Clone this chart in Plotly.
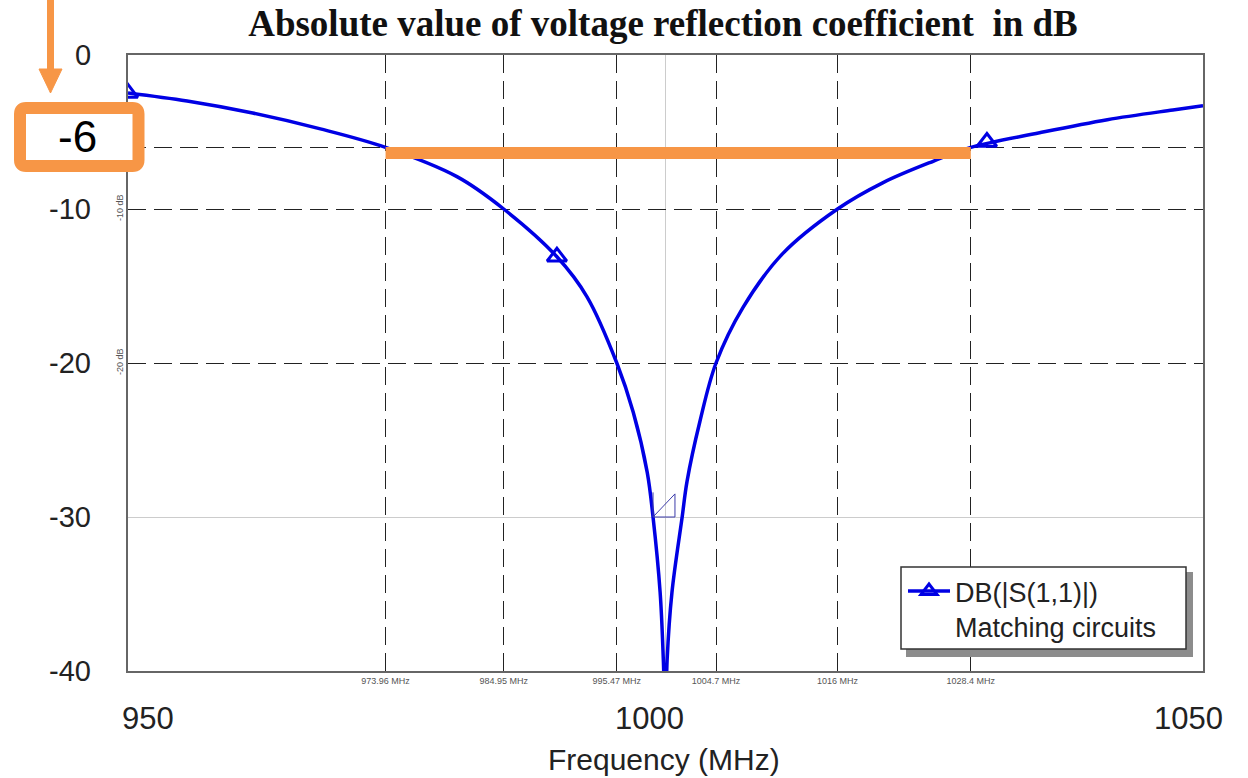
import plotly.graph_objects as go

# ---------------- data ----------------
freq_mhz = [950, 955.5, 961.6, 967.9, 973.96, 980.6, 984.95, 989.9, 992.7, 995.47,
            997.0, 998.3, 998.84, 999.5, 999.8, 1000.0, 1000.15, 1000.6, 1001.55,
            1002.0, 1003.2, 1004.7, 1007.2, 1010.9, 1016.0, 1020.2, 1024.9, 1028.4,
            1034.8, 1041.1, 1047.2, 1050]
s11_db = [-2.47, -2.99, -3.77, -4.8, -6.0, -7.9, -10.0, -13.1, -15.7, -20.0,
          -23.2, -27.1, -30.0, -34.9, -39.3, -44.0, -39.3, -34.9, -30.0,
          -27.7, -23.8, -20.0, -16.4, -12.9, -10.0, -8.3, -6.9, -6.0,
          -5.05, -4.2, -3.57, -3.3]

marker_freq = [950, 989.9, 1029.9]
marker_db = [-2.47, -13.1, -5.65]

grid_freq = [973.96, 984.95, 995.47, 1004.7, 1016, 1028.4]
grid_freq_text = ["973.96 MHz", "984.95 MHz", "995.47 MHz", "1004.7 MHz", "1016 MHz", "1028.4 MHz"]
grid_db = [-6, -10, -20]
grid_db_text = ["-6 dB", "-10 dB", "-20 dB"]

big_x_ticks = [950, 1000, 1050]
big_x_shift = [20, -16, -15]
big_y_ticks = [0, -10, -20, -30, -40]

center_freq = 1000
ref_level = -30
bw_edges = [973.96, 1028.4]
bw_level = -6
highlight_label = "-6"

title_text = "Absolute value of voltage reflection coefficient  in dB"
legend_text = "DB(|S(1,1)|)<br>Matching circuits"
x_title = "Frequency (MHz)"

# ---------------- layout helpers ----------------
W, H = 1248, 778
L, R, T, B = 128, 1203, 55, 671
ORANGE = "rgb(247,150,70)"
BLUE = "rgb(0,0,228)"
SANS = "Liberation Sans, Arial, sans-serif"
SERIF = "Liberation Serif, Times New Roman, serif"


def px(xp):
    return (xp - L) / (R - L)


def py(yp):
    return (B - yp) / (B - T)


fig = go.Figure()

fig.add_trace(go.Scatter(
    x=freq_mhz, y=s11_db, mode="lines",
    line=dict(color=BLUE, width=3.5, shape="spline", smoothing=1.0),
    showlegend=False, hoverinfo="x+y"))

fig.add_trace(go.Scatter(
    x=marker_freq, y=marker_db, mode="markers",
    marker=dict(symbol="triangle-up-open", size=17, color=BLUE, line=dict(width=3, color=BLUE)),
    showlegend=False))

# legend-only entry
fig.add_trace(go.Scatter(
    x=[None], y=[None], mode="lines+markers", name=legend_text,
    line=dict(color=BLUE, width=3.5),
    marker=dict(symbol="triangle-up-open", size=14, color=BLUE, line=dict(width=3, color=BLUE)),
    showlegend=True))

shapes = []

# small marker flag at (center_freq, ref_level)
dx_l, dx_r = -1.16, 0.88
dy_t, dy_t2 = 1.6, 1.5
fx0, fx1 = center_freq + dx_l, center_freq + dx_r
fy0 = ref_level
shapes.append(dict(
    type="path", xref="x", yref="y",
    path=(f"M {fx0},{fy0 + dy_t} L {fx0},{fy0} L {fx1},{fy0} L {fx1},{fy0 + dy_t2} L {fx0},{fy0} "),
    line=dict(color="rgb(60,60,170)", width=1), layer="above"))

# orange bandwidth line
shapes.append(dict(type="line", xref="x", yref="y",
                   x0=bw_edges[0], x1=bw_edges[1], y0=bw_level - 0.36, y1=bw_level - 0.36,
                   line=dict(color=ORANGE, width=12), layer="above"))

# orange arrow
shapes.append(dict(type="line", xref="paper", yref="paper",
                   x0=px(50.5), x1=px(50.5), y0=py(0), y1=py(72),
                   line=dict(color=ORANGE, width=7), layer="above"))
shapes.append(dict(type="path", xref="paper", yref="paper",
                   path=f"M {px(39)},{py(69)} L {px(62)},{py(69)} L {px(50.5)},{py(93)} Z",
                   fillcolor=ORANGE, line=dict(color=ORANGE, width=1), layer="above"))

# orange rounded box around -6
x0b, x1b, y0b, y1b, r = 20, 138.5, 108, 166, 6
path = (f"M {px(x0b + r)},{py(y0b)} L {px(x1b - r)},{py(y0b)} "
        f"Q {px(x1b)},{py(y0b)} {px(x1b)},{py(y0b + r)} "
        f"L {px(x1b)},{py(y1b - r)} Q {px(x1b)},{py(y1b)} {px(x1b - r)},{py(y1b)} "
        f"L {px(x0b + r)},{py(y1b)} Q {px(x0b)},{py(y1b)} {px(x0b)},{py(y1b - r)} "
        f"L {px(x0b)},{py(y0b + r)} Q {px(x0b)},{py(y0b)} {px(x0b + r)},{py(y0b)} Z")
shapes.append(dict(type="path", xref="paper", yref="paper", path=path,
                   fillcolor="white", line=dict(color=ORANGE, width=12), layer="above"))

# legend box with drop shadow
shapes.append(dict(type="rect", xref="paper", yref="paper",
                   x0=px(906), x1=px(1193), y0=py(572), y1=py(657),
                   fillcolor="rgb(140,140,140)", line=dict(width=0), layer="above"))
shapes.append(dict(type="rect", xref="paper", yref="paper",
                   x0=px(901), x1=px(1186), y0=py(567), y1=py(649),
                   fillcolor="white", line=dict(color="#333", width=1.5), layer="above"))

annotations = []
for v in big_y_ticks:
    annotations.append(dict(x=px(93), y=v, xref="paper", yref="y", text=str(v),
                            showarrow=False, xanchor="right", yanchor="middle",
                            font=dict(family=SANS, size=29, color="#222")))
for v, s in zip(big_x_ticks, big_x_shift):
    annotations.append(dict(x=v, y=py(718), xref="x", yref="paper", text=str(v), xshift=s,
                            showarrow=False, xanchor="center", yanchor="middle",
                            font=dict(family=SANS, size=31, color="#222")))
annotations.append(dict(x=px(664), y=py(759), xref="paper", yref="paper", text=x_title,
                        showarrow=False, xanchor="center", yanchor="middle",
                        font=dict(family=SANS, size=30, color="#222")))
annotations.append(dict(x=px(77), y=py(137), xref="paper", yref="paper", text=highlight_label,
                        showarrow=False, xanchor="center", yanchor="middle",
                        font=dict(family=SANS, size=44, color="black")))

fig.update_layout(
    width=W, height=H,
    margin=dict(l=L, r=W - R, t=T, b=H - B),
    paper_bgcolor="white", plot_bgcolor="white",
    title=dict(text=f"<b>{title_text}</b>", x=px(663), xref="paper", xanchor="center",
               y=1 - 23 / H, yanchor="middle", font=dict(family=SERIF, size=37, color="#111")),
    xaxis=dict(range=[950, 1050], tickmode="array", tickvals=grid_freq, ticktext=grid_freq_text,
               tickfont=dict(family=SANS, size=9, color="#555"), ticks="",
               showgrid=True, gridcolor="#222", griddash="18px,8px", gridwidth=1.2,
               showline=True, mirror=True, linecolor="#666", linewidth=1.5, zeroline=False,
               minor=dict(tickmode="array", tickvals=[center_freq], showgrid=True,
                          gridcolor="#cccccc", gridwidth=1, griddash="solid", ticks="")),
    yaxis=dict(range=[-40, 0], tickmode="array", tickvals=grid_db, ticktext=grid_db_text,
               tickangle=-90, tickfont=dict(family=SANS, size=9, color="#555"), ticks="",
               showgrid=True, gridcolor="#222", griddash="18px,8px", gridwidth=1.2,
               showline=True, mirror=True, linecolor="#666", linewidth=1.5, zeroline=False,
               minor=dict(tickmode="array", tickvals=[ref_level], showgrid=True,
                          gridcolor="#cccccc", gridwidth=1, griddash="solid", ticks="")),
    legend=dict(x=px(903), y=py(567), xanchor="left", yanchor="top",
                bgcolor="rgba(0,0,0,0)", borderwidth=0,
                font=dict(family=SANS, size=27, color="#222"), valign="top",
                tracegroupgap=0, itemwidth=42),
    shapes=shapes, annotations=annotations,
)

fig.write_html("out.html")
